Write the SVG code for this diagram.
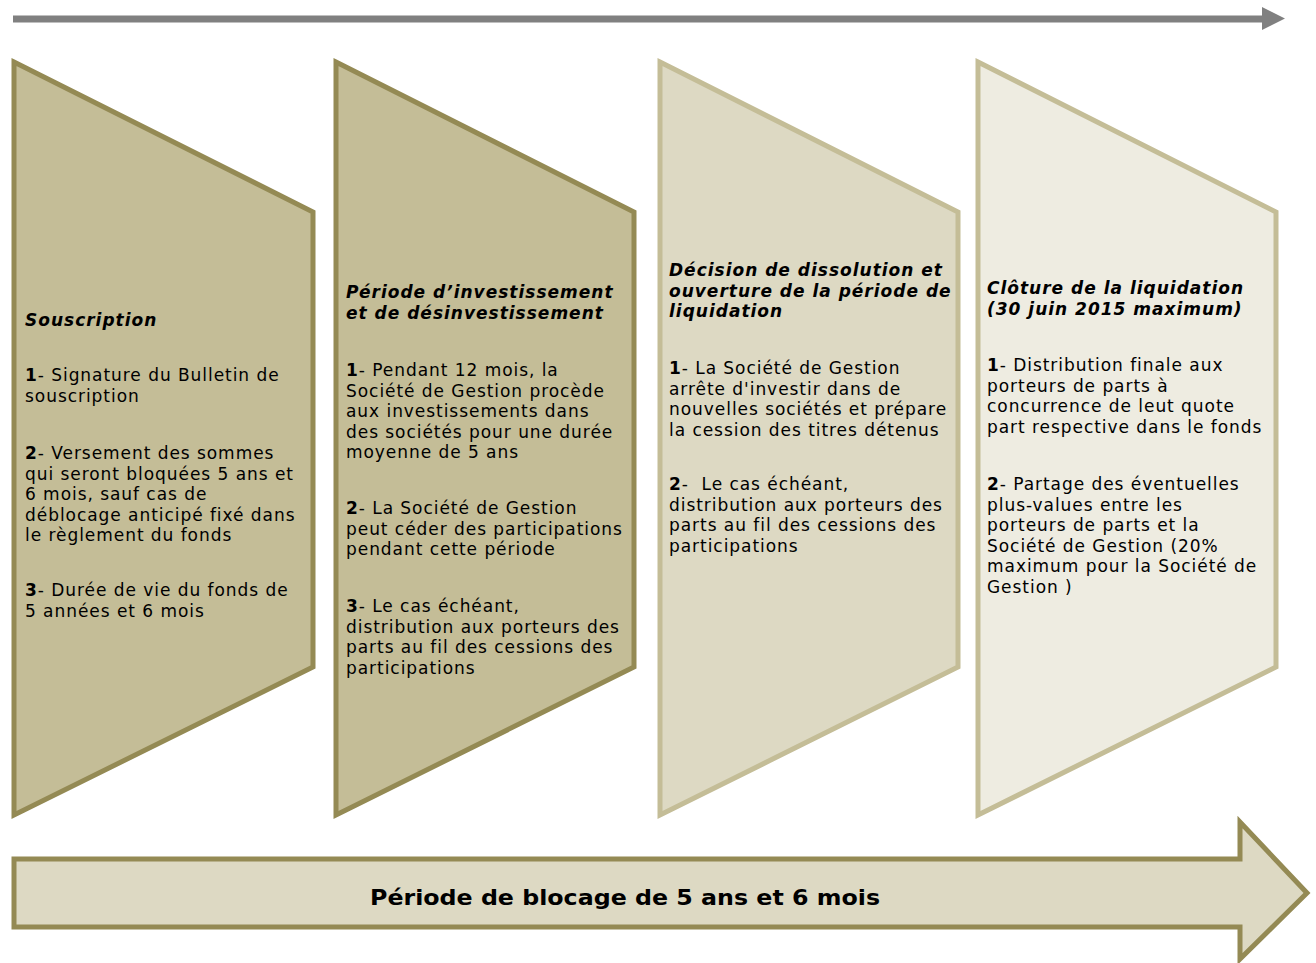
<svg xmlns="http://www.w3.org/2000/svg" width="1316" height="963" viewBox="0 0 1316 963">
<style>
.dark{fill:#c4bd97;stroke:#948a54;stroke-width:5;stroke-linejoin:miter}
.mid{fill:#ddd9c3;stroke:#c4bd97;stroke-width:5}
.light{fill:#eeece1;stroke:#c4bd97;stroke-width:5}
.t{font-family:"DejaVu Sans","Liberation Sans",sans-serif;font-size:17px;fill:#000;letter-spacing:0.95px}
.h{font-family:"DejaVu Sans","Liberation Sans",sans-serif;font-size:17px;font-weight:bold;font-style:italic;fill:#000;letter-spacing:1px}
.b{font-weight:bold}
.big{font-family:"DejaVu Sans","Liberation Sans",sans-serif;font-size:22px;font-weight:bold;fill:#000}
</style>
<rect width="1316" height="963" fill="#fff"/>
<g id="connectors">
<polygon points="13,15.5 1262,15.5 1262,7 1285,18.5 1262,30 1262,22.5 13,22.5" fill="#808080"/>
</g>
<g id="node-souscription">
<polygon class="dark" points="14,62 313,212 313,667 14,815"/>
<text class="h" x="25" y="326">Souscription</text>
<text class="t" x="25" y="381"><tspan class="b">1</tspan>- Signature du Bulletin de</text>
<text class="t" x="25" y="401.5">souscription</text>
<text class="t" x="25" y="459"><tspan class="b">2</tspan>- Versement des sommes</text>
<text class="t" x="25" y="479.5">qui seront bloquées 5 ans et</text>
<text class="t" x="25" y="500">6 mois, sauf cas de</text>
<text class="t" x="25" y="520.5">déblocage anticipé fixé dans</text>
<text class="t" x="25" y="541">le règlement du fonds</text>
<text class="t" x="25" y="596"><tspan class="b">3</tspan>- Durée de vie du fonds de</text>
<text class="t" x="25" y="616.5">5 années et 6 mois</text>
</g>
<g id="node-investissement">
<polygon class="dark" points="336,62 634,212 634,667 336,815"/>
<text class="h" x="346" y="298">Période d’investissement</text>
<text class="h" x="346" y="319">et de désinvestissement</text>
<text class="t" x="346" y="376"><tspan class="b">1</tspan>- Pendant 12 mois, la</text>
<text class="t" x="346" y="396.5">Société de Gestion procède</text>
<text class="t" x="346" y="417">aux investissements dans</text>
<text class="t" x="346" y="437.5">des sociétés pour une durée</text>
<text class="t" x="346" y="458">moyenne de 5 ans</text>
<text class="t" x="346" y="514"><tspan class="b">2</tspan>- La Société de Gestion</text>
<text class="t" x="346" y="534.5">peut céder des participations</text>
<text class="t" x="346" y="555">pendant cette période</text>
<text class="t" x="346" y="612"><tspan class="b">3</tspan>- Le cas échéant,</text>
<text class="t" x="346" y="632.5">distribution aux porteurs des</text>
<text class="t" x="346" y="653">parts au fil des cessions des</text>
<text class="t" x="346" y="673.5">participations</text>
</g>
<g id="node-dissolution">
<polygon class="mid" points="660,62 958,212 958,667 660,815"/>
<text class="h" x="669" y="276">Décision de dissolution et</text>
<text class="h" x="669" y="297">ouverture de la période de</text>
<text class="h" x="669" y="317">liquidation</text>
<text class="t" x="669" y="374"><tspan class="b">1</tspan>- La Société de Gestion</text>
<text class="t" x="669" y="394.5">arrête d'investir dans de</text>
<text class="t" x="669" y="415">nouvelles sociétés et prépare</text>
<text class="t" x="669" y="435.5">la cession des titres détenus</text>
<text class="t" x="669" y="490" xml:space="preserve"><tspan class="b">2</tspan>-  Le cas échéant,</text>
<text class="t" x="669" y="510.5">distribution aux porteurs des</text>
<text class="t" x="669" y="531">parts au fil des cessions des</text>
<text class="t" x="669" y="551.5">participations</text>
</g>
<g id="node-cloture">
<polygon class="light" points="978,62 1276,212 1276,667 978,815"/>
<text class="h" x="987" y="294">Clôture de la liquidation</text>
<text class="h" x="987" y="315">(30 juin 2015 maximum)</text>
<text class="t" x="987" y="371"><tspan class="b">1</tspan>- Distribution finale aux</text>
<text class="t" x="987" y="391.5">porteurs de parts à</text>
<text class="t" x="987" y="412">concurrence de leut quote</text>
<text class="t" x="987" y="432.5">part respective dans le fonds</text>
<text class="t" x="987" y="490"><tspan class="b">2</tspan>- Partage des éventuelles</text>
<text class="t" x="987" y="510.5">plus-values entre les</text>
<text class="t" x="987" y="531">porteurs de parts et la</text>
<text class="t" x="987" y="551.5">Société de Gestion (20%</text>
<text class="t" x="987" y="572">maximum pour la Société de</text>
<text class="t" x="987" y="592.5">Gestion )</text>
</g>
<g id="node-blocage">
<polygon points="14,859 1240,859 1240,822 1307,893 1240,959 1240,927 14,927" fill="#ddd9c3" stroke="#948a54" stroke-width="5" stroke-linejoin="miter"/>
<text class="big" x="625" y="905" text-anchor="middle" textLength="510" lengthAdjust="spacingAndGlyphs">Période de blocage de 5 ans et 6 mois</text>
</g>
</svg>
